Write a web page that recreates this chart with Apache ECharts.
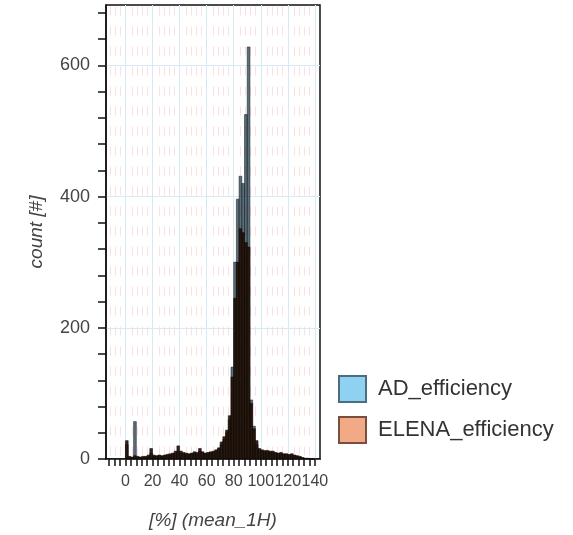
<!DOCTYPE html>
<html>
<head>
<meta charset="utf-8">
<script src="https://cdn.jsdelivr.net/npm/echarts@6/dist/echarts.min.js"></script>
<style>
  html, body { margin: 0; padding: 0; background: #fff; }
  #main { width: 573px; height: 535px; }
</style>
</head>
<body>
<div id="main"></div>
<script>
// histogram bins: [binStart + i*binWidth, binStart + (i+1)*binWidth)
const binStart = 0;
const binWidth = 2;

const adCounts = [
  22, 3, 2, 57, 3, 2, 3, 3, 4, 9,
  4, 4, 5, 4, 5, 6, 6, 7, 9, 12,
  9, 8, 7, 7, 8, 9, 8, 12, 9, 8,
  9, 10, 10, 12, 15, 22, 30, 40, 60, 140,
  300, 396, 431, 420, 525, 628, 90, 50, 22, 14,
  12, 11, 11, 10, 10, 9, 8, 8, 7, 7,
  6, 6, 5, 4, 3, 2, 1, 1, 0, 0
];
const elenaCounts = [
  28, 4, 3, 5, 4, 3, 4, 4, 6, 16,
  6, 5, 6, 5, 6, 7, 8, 9, 12, 20,
  12, 10, 9, 8, 9, 11, 10, 16, 11, 9,
  10, 11, 12, 14, 17, 26, 34, 44, 66, 125,
  245, 300, 351, 345, 330, 323, 85, 46, 28, 16,
  14, 13, 13, 12, 12, 10, 9, 10, 8, 8,
  7, 8, 6, 5, 4, 2, 1, 1, 0, 0
];

const xMajorTicks = [0, 20, 40, 60, 80, 100, 120, 140];
const xMinorTicks = [-12, -8, -4, 4, 8, 12, 16, 24, 28, 32, 36, 44, 48, 52, 56, 64, 68, 72, 76,
  84, 88, 92, 96, 104, 108, 112, 116, 124, 128, 132, 136];
const yMajorTicks = [0, 200, 400, 600];
const yMinorTicks = [40, 80, 120, 160, 240, 280, 320, 360, 440, 480, 520, 560, 640, 680];

const toBins = counts => counts.map((c, i) => [binStart + i * binWidth, binStart + (i + 1) * binWidth, c]);

// faint pink hatch behind the plot
function makePattern() {
  const c = document.createElement('canvas');
  c.width = 27; c.height = 20;
  const ctx = c.getContext('2d');
  ctx.fillStyle = '#fff';
  ctx.fillRect(0, 0, 27, 20);
  ctx.strokeStyle = '#f9e0e5';
  ctx.lineWidth = 1;
  [2.5, 7.5, 12.5, 24.5].forEach(x => {
    ctx.beginPath();
    ctx.moveTo(x, 6.5);
    ctx.lineTo(x, 15.5);
    ctx.stroke();
  });
  return c;
}

function histItem(fill, stroke) {
  return function (params, api) {
    const p0 = api.coord([api.value(0), 0]);
    const p1 = api.coord([api.value(1), api.value(2)]);
    return {
      type: 'rect',
      shape: { x: p0[0], y: p1[1], width: p1[0] - p0[0], height: p0[1] - p1[1] },
      style: { fill: fill, stroke: stroke, lineWidth: 0.9 }
    };
  };
}

var myChart = echarts.init(document.getElementById('main'));
const xMin = -14.4, xMax = 143.8, yMax = 692;
const labelFont = 'Liberation Sans, Arial, sans-serif';
const tickStyle = { color: '#111', width: 1.5 };

// tick-only axis helper (no line, no labels)
function tickAxis(min, max, position, values, length) {
  return {
    type: 'value', min: min, max: max, position: position,
    axisLine: { show: false, onZero: false },
    axisTick: { show: true, length: length, customValues: values, lineStyle: tickStyle },
    axisLabel: { show: false },
    splitLine: { show: false }
  };
}

const option = {
  animation: false,
  textStyle: { fontFamily: labelFont },
  grid: {
    show: true,
    left: 106, top: 5, width: 214, height: 457,
    borderColor: '#111', borderWidth: 1.5,
    backgroundColor: { image: makePattern(), repeat: 'repeat' }
  },
  legend: {
    orient: 'vertical',
    left: 338, top: 375, padding: 0,
    itemWidth: 27, itemHeight: 26, itemGap: 13,
    textStyle: { fontSize: 22, color: '#333', fontFamily: labelFont, padding: [0, 0, 0, 7] },
    data: [
      { name: 'AD_efficiency', icon: 'rect', itemStyle: { color: '#8fd1f1', borderColor: '#4c6d80', borderWidth: 2 } },
      { name: 'ELENA_efficiency', icon: 'rect', itemStyle: { color: '#f2aa86', borderColor: '#7a4e3c', borderWidth: 2 } }
    ]
  },
  xAxis: [
    {
      type: 'value', min: xMin, max: xMax, position: 'bottom',
      name: '[%] (mean_1H)', nameLocation: 'middle', nameGap: 52,
      nameTextStyle: { fontStyle: 'italic', fontSize: 19, color: '#444' },
      axisLine: { show: true, onZero: false, lineStyle: { color: '#111', width: 1.5 } },
      axisTick: { show: false, customValues: xMajorTicks },
      axisLabel: { customValues: xMajorTicks, fontSize: 16, color: '#444', margin: 15 },
      splitLine: { show: true, lineStyle: { color: '#d5eaf2', width: 1 } }
    },
    tickAxis(xMin, xMax, 'bottom', xMajorTicks.concat(xMinorTicks), 7)
  ],
  yAxis: [
    {
      type: 'value', min: 0, max: yMax, position: 'left',
      name: 'count [#]', nameLocation: 'middle', nameGap: 60,
      nameTextStyle: { fontStyle: 'italic', fontSize: 19, color: '#444' },
      axisLine: { show: true, onZero: false, lineStyle: { color: '#111', width: 1.5 } },
      axisTick: { show: false, customValues: yMajorTicks },
      axisLabel: { customValues: yMajorTicks, fontSize: 18, color: '#444', margin: 16 },
      splitLine: { show: true, lineStyle: { color: '#d5eaf2', width: 1 } }
    },
    tickAxis(0, yMax, 'left', yMajorTicks.concat(yMinorTicks), 8)
  ],
  series: [
    {
      name: 'AD_efficiency', type: 'custom',
      xAxisIndex: 0, yAxisIndex: 0,
      encode: { x: [0, 1], y: 2 },
      renderItem: histItem('rgba(30,55,70,0.72)', 'rgba(20,32,40,0.6)'),
      data: toBins(adCounts),
      z: 2
    },
    {
      name: 'ELENA_efficiency', type: 'custom',
      xAxisIndex: 0, yAxisIndex: 0,
      encode: { x: [0, 1], y: 2 },
      renderItem: histItem('rgba(30,14,4,0.9)', 'rgba(20,10,4,0.6)'),
      data: toBins(elenaCounts),
      z: 3
    }
  ]
};
myChart.setOption(option);
</script>
</body>
</html>
